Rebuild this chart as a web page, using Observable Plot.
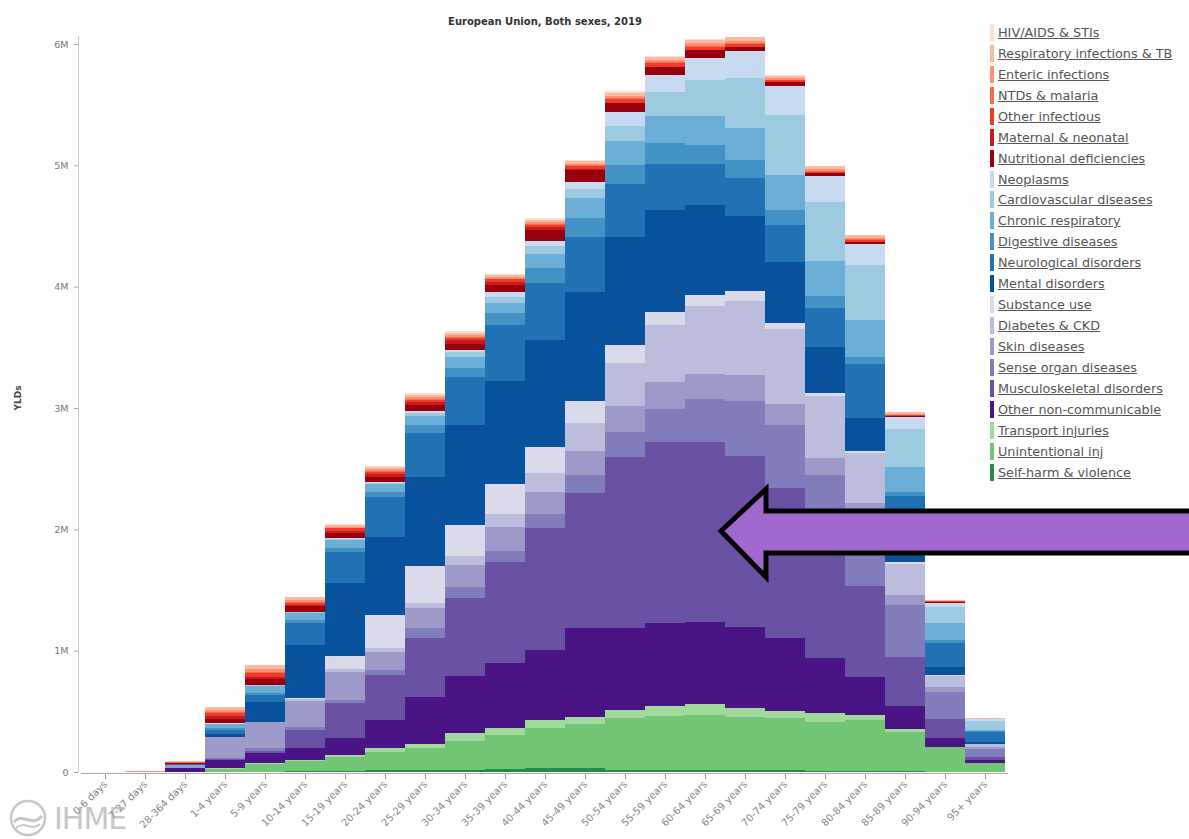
<!DOCTYPE html>
<html>
<head>
<meta charset="utf-8">
<script src="https://cdn.jsdelivr.net/npm/d3@7"></script>
<script src="https://cdn.jsdelivr.net/npm/@observablehq/plot@0.6"></script>
<style>
  html, body { margin: 0; padding: 0; background: #fff; }
  #wrap { position: relative; width: 1189px; height: 839px; overflow: hidden; font-family: "DejaVu Sans", Verdana, sans-serif; }
  #legend { position: absolute; left: 990px; top: 22px; }
  .item { display: flex; align-items: center; height: 20.95px; }
  .sw { width: 4px; height: 17px; margin-right: 4px; }
  .lab { font-size: 12.8px; color: #555; text-decoration: underline; white-space: nowrap; }
  #arrow { position: absolute; left: 0; top: 0; }
  #logo { position: absolute; left: 8px; top: 798px; display: flex; align-items: center; opacity: 0.55; }
  #logo span { font-family: "DejaVu Sans", sans-serif; font-size: 30px; color: #999; margin-left: 6px; letter-spacing: -1px; }
</style>
</head>
<body>
<div id="wrap"></div>
<script>
// ---- data (YLDs, thousands) ----
const title = "European Union, Both sexes, 2019";
const ages = ["0-6 days","7-27 days","28-364 days","1-4 years","5-9 years","10-14 years","15-19 years","20-24 years","25-29 years","30-34 years","35-39 years","40-44 years","45-49 years","50-54 years","55-59 years","60-64 years","65-69 years","70-74 years","75-79 years","80-84 years","85-89 years","90-94 years","95+ years"];

const hiv          = [0,0,1,2,3,3,5,9,12,15,13,14,12,12,8,5,3,2,1,1,0,0,0];
const respInf      = [0,0.5,5,25,30,22,15,18,19,19,16,18,18,28,26,28,30,20,22,20,13,5,1];
const enteric      = [0,0.3,4,20,25,16,11,14,15,15,12,14,13,19,18,19,19,13,15,14,9,4,1];
const ntds         = [0,0,2,8,11,8,5,6,6,6,5,6,6,8,7,7,7,5,5,5,3,1,0];
const otherInf     = [0,0,3,25,30,20,18,18,18,18,20,22,24,26,27,28,22,19,15,12,6,6,1];
const maternal     = [2,2,3,20,15,8,16,22,28,30,30,25,12,3,1,0,0,0,0,0,0,0,0];
const nutritional  = [0,0,2,37,51,46,48,42,45,49,57,84,96,78,71,63,37,32,25,21,10,11,1];
const neoplasms    = [0,0,1,3,4,5,6,8,15,22,40,45,58,110,138,186,217,237,209,176,96,27,19];
const cardio       = [0,0,1,4,4,6,10,14,30,40,52,61,74,126,198,297,415,490,490,453,316,137,69];
const chronResp    = [0,0,3,35,55,55,60,60,76,90,76,122,169,198,218,237,265,289,289,298,206,137,14];
const digestive    = [0,0,1,12,19,25,34,42,61,76,107,122,152,158,178,158,150,130,93,59,33,27,5];
const neuro        = [0,0,2,30,55,184,261,330,365,395,456,471,456,434,375,336,308,304,328,447,311,193,82];
const mental       = [0,0,1,28,165,440,599,645,730,821,852,882,898,893,842,739,621,502,374,272,233,69,14];
const substance    = [0,0,0,0,1,8,110,275,304,259,243,213,183,147,107,91,79,51,23,16,14,5,1];
const diabetes     = [0,0,1,2,4,10,20,30,45,76,107,152,228,355,474,565,613,613,517,415,261,90,27];
const skin         = [0,1,22,175,215,215,233,149,167,182,198,182,198,209,217,205,217,178,139,140,82,41,14];
const sense        = [0,0,2,8,20,27,27,41,76,91,91,122,152,206,277,356,447,514,453,544,426,228,69];
const musculo      = [0,0,2,5,21,151,288,371,486,639,836,1004,1110,1415,1494,1482,1411,1237,1058,748,407,157,27];
const otherNcd     = [1,1,30,69,82,96,137,233,395,471,532,578,730,672,680,672,672,601,453,316,184,69,22];
const transport    = [0,0,0,3,6,10,19,27,30,61,61,61,61,67,79,91,71,59,69,41,27,3,1];
const unintentional= [0,0,3,25,62,82,110,153,181,243,283,334,365,426,445,453,433,426,402,414,322,202,72];
const selfHarm     = [0,0,0,2,4,7,11,15,16,16,21,30,30,20,20,20,20,20,12,12,8,4,1];

// legend order (top to bottom)
const causes = ["HIV/AIDS & STIs","Respiratory infections & TB","Enteric infections","NTDs & malaria","Other infectious","Maternal & neonatal","Nutritional deficiencies","Neoplasms","Cardiovascular diseases","Chronic respiratory","Digestive diseases","Neurological disorders","Mental disorders","Substance use","Diabetes & CKD","Skin diseases","Sense organ diseases","Musculoskeletal disorders","Other non-communicable","Transport injuries","Unintentional inj","Self-harm & violence"];
const colors = ["#fee0d2","#fcbba1","#fc9272","#fb6a4a","#ef3b2c","#cb181d","#99000d","#c6dbef","#9ecae1","#6baed6","#4292c6","#2171b5","#08519c","#dadaeb","#bcbddc","#9e9ac8","#807dba","#6a51a3","#4a1486","#a1d99b","#74c476","#238b45"];
const series = [hiv,respInf,enteric,ntds,otherInf,maternal,nutritional,neoplasms,cardio,chronResp,digestive,neuro,mental,substance,diabetes,skin,sense,musculo,otherNcd,transport,unintentional,selfHarm];
const yTicks = [0,1e6,2e6,3e6,4e6,5e6,6e6];

// rows in stacking order: bottom (self-harm) to top (HIV)
const rows = [];
for (let c = causes.length - 1; c >= 0; c--) {
  ages.forEach((a, i) => rows.push({age: a, cause: causes[c], value: series[c][i] * 1000}));
}

const font = "DejaVu Sans, Verdana, sans-serif";
const chart = Plot.plot({
  width: 1189,
  height: 839,
  marginLeft: 81,
  marginRight: 181,
  marginTop: 36,
  marginBottom: 67,
  style: {fontFamily: font, background: "#fff"},
  x: {domain: ages, padding: 0},
  y: {domain: [0, 6066000]},
  color: {domain: causes, range: colors},
  marks: [
    Plot.barY(rows, Plot.stackY({x: "age", y: "value", fill: "cause", insetLeft: 0, insetRight: 0, shapeRendering: "crispEdges"})),
    Plot.ruleY([0], {stroke: "#aaa", dy: 1}),
    Plot.frame({anchor: "left", stroke: "#ccc", dx: -3}),
    Plot.axisY({ticks: yTicks, tickFormat: d => d === 0 ? "0" : (d / 1e6) + "M", tickSize: 4, tickPadding: 6, dx: -3, stroke: "#aaa", fill: "#777", fontSize: 9.5, label: null}),
    Plot.axisX({tickRotate: -45, tickSize: 6, tickPadding: 3, dy: 1, stroke: "#999", fill: "#888", fontSize: 10, label: null}),
    Plot.text([title], {frameAnchor: "top", dy: -19, fontWeight: "bold", fontSize: 10, fill: "#333"}),
    Plot.text(["YLDs"], {frameAnchor: "left", dx: -63, dy: 6, rotate: -90, fontWeight: "bold", fontSize: 9, fill: "#444"})
  ]
});

const wrap = document.getElementById("wrap");
wrap.appendChild(chart);

// legend
const legend = document.createElement("div");
legend.id = "legend";
causes.forEach((c, i) => {
  const it = document.createElement("div");
  it.className = "item";
  const sw = document.createElement("div");
  sw.className = "sw";
  sw.style.background = colors[i];
  const lab = document.createElement("span");
  lab.className = "lab";
  lab.textContent = c;
  it.appendChild(sw);
  it.appendChild(lab);
  legend.appendChild(it);
});
wrap.appendChild(legend);

// annotation arrow (overlay)
const ns = "http://www.w3.org/2000/svg";
const arr = document.createElementNS(ns, "svg");
arr.setAttribute("id", "arrow");
arr.setAttribute("width", 1189);
arr.setAttribute("height", 839);
const poly = document.createElementNS(ns, "polygon");
poly.setAttribute("points", "721,531 766,489 766,511 1200,511 1200,553 766,553 766,577");
poly.setAttribute("fill", "#a368d0");
poly.setAttribute("stroke", "#000");
poly.setAttribute("stroke-width", "5");
poly.setAttribute("stroke-linejoin", "miter");
arr.appendChild(poly);
wrap.appendChild(arr);

// logo
const logo = document.createElement("div");
logo.id = "logo";
logo.innerHTML = '<svg width="40" height="40" viewBox="0 0 40 40"><circle cx="20" cy="20" r="17" fill="none" stroke="#999" stroke-width="2.5"/><path d="M6 24 C14 14, 24 30, 34 18" fill="none" stroke="#999" stroke-width="3"/><path d="M8 30 C16 22, 24 34, 32 26" fill="none" stroke="#999" stroke-width="2"/></svg><span>IHME</span>';
wrap.appendChild(logo);
</script>
</body>
</html>
